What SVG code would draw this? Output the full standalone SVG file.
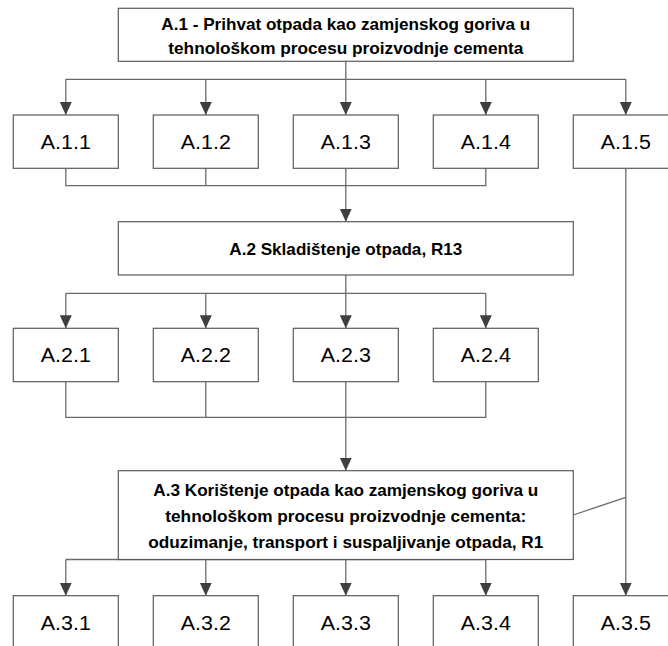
<svg xmlns="http://www.w3.org/2000/svg" width="668" height="646" viewBox="0 0 668 646">
<style>
.box{fill:#fff;stroke:#5a5a5a;stroke-width:1.2}
.ln{fill:none;stroke:#6a6a6a;stroke-width:1.3}
.lbl{font-family:"Liberation Sans",Arial,sans-serif;font-size:20.5px;fill:#000;text-anchor:middle}
.hd{font-family:"Liberation Sans",Arial,sans-serif;font-size:16.5px;font-weight:bold;fill:#000;text-anchor:middle}
</style>
<defs>
<marker id="ah" markerUnits="userSpaceOnUse" markerWidth="14" markerHeight="13" refX="13" refY="6" orient="auto" viewBox="0 0 14 12">
<path d="M0,0 L13,6 L0,12 Z" fill="#3f3f3f"/>
</marker>
</defs>
<g id="connectors">
<path class="ln" d="M345.8,61.3 V79.3 M65.8,79.3 H625.8"/>
<path class="ln" marker-end="url(#ah)" d="M65.8,79.3 V115"/>
<path class="ln" marker-end="url(#ah)" d="M205.8,79.3 V115"/>
<path class="ln" marker-end="url(#ah)" d="M345.8,79.3 V115"/>
<path class="ln" marker-end="url(#ah)" d="M485.8,79.3 V115"/>
<path class="ln" marker-end="url(#ah)" d="M625.8,79.3 V115"/>
<path class="ln" d="M65.8,168.3 V185.7 H485.8 V168.3 M205.8,168.3 V185.7 M345.8,168.3 V185.7"/>
<path class="ln" marker-end="url(#ah)" d="M345.8,185.7 V221.7"/>
<path class="ln" d="M345.8,275 V293.3 M65.8,293.3 H485.8"/>
<path class="ln" marker-end="url(#ah)" d="M65.8,293.3 V328.3"/>
<path class="ln" marker-end="url(#ah)" d="M205.8,293.3 V328.3"/>
<path class="ln" marker-end="url(#ah)" d="M345.8,293.3 V328.3"/>
<path class="ln" marker-end="url(#ah)" d="M485.8,293.3 V328.3"/>
<path class="ln" d="M65.8,381.7 V417.3 H485.8 V381.7 M205.8,381.7 V417.3 M345.8,381.7 V417.3"/>
<path class="ln" marker-end="url(#ah)" d="M345.8,417.3 V470.7"/>
<path class="ln" d="M65.8,559.5 H485.8"/>
<path class="ln" marker-end="url(#ah)" d="M65.8,559.5 V595.7"/>
<path class="ln" marker-end="url(#ah)" d="M205.8,559.5 V595.7"/>
<path class="ln" marker-end="url(#ah)" d="M345.8,559.5 V595.7"/>
<path class="ln" marker-end="url(#ah)" d="M485.8,559.5 V595.7"/>
<path class="ln" marker-end="url(#ah)" d="M625.8,168.3 V595.7"/>
<path class="ln" stroke-width="1" d="M573.3,515 L625.8,497.3"/>
</g>
<g id="A1">
<rect class="box" x="118.3" y="8.3" width="455" height="53"/>
<text class="hd" x="345.8" y="29.5" textLength="369" lengthAdjust="spacingAndGlyphs">A.1 - Prihvat otpada kao zamjenskog goriva u</text>
<text class="hd" x="345.8" y="53.5" textLength="355" lengthAdjust="spacingAndGlyphs">tehnološkom procesu proizvodnje cementa</text>
</g>
<g id="A11"><rect class="box" x="13.3" y="115" width="105" height="53.3"/><text class="lbl" x="65.8" y="149" textLength="50" lengthAdjust="spacingAndGlyphs">A.1.1</text></g>
<g id="A12"><rect class="box" x="153.3" y="115" width="105" height="53.3"/><text class="lbl" x="205.8" y="149" textLength="50" lengthAdjust="spacingAndGlyphs">A.1.2</text></g>
<g id="A13"><rect class="box" x="293.3" y="115" width="105" height="53.3"/><text class="lbl" x="345.8" y="149" textLength="50" lengthAdjust="spacingAndGlyphs">A.1.3</text></g>
<g id="A14"><rect class="box" x="433.3" y="115" width="105" height="53.3"/><text class="lbl" x="485.8" y="149" textLength="50" lengthAdjust="spacingAndGlyphs">A.1.4</text></g>
<g id="A15"><rect class="box" x="573.3" y="115" width="105" height="53.3"/><text class="lbl" x="625.8" y="149" textLength="50" lengthAdjust="spacingAndGlyphs">A.1.5</text></g>
<g id="A2">
<rect class="box" x="118.3" y="221.7" width="455" height="53.3"/>
<text class="hd" x="345.8" y="254.5" textLength="233" lengthAdjust="spacingAndGlyphs">A.2 Skladištenje otpada, R13</text>
</g>
<g id="A21"><rect class="box" x="13.3" y="328.3" width="105" height="53.4"/><text class="lbl" x="65.8" y="362.3" textLength="50" lengthAdjust="spacingAndGlyphs">A.2.1</text></g>
<g id="A22"><rect class="box" x="153.3" y="328.3" width="105" height="53.4"/><text class="lbl" x="205.8" y="362.3" textLength="50" lengthAdjust="spacingAndGlyphs">A.2.2</text></g>
<g id="A23"><rect class="box" x="293.3" y="328.3" width="105" height="53.4"/><text class="lbl" x="345.8" y="362.3" textLength="50" lengthAdjust="spacingAndGlyphs">A.2.3</text></g>
<g id="A24"><rect class="box" x="433.3" y="328.3" width="105" height="53.4"/><text class="lbl" x="485.8" y="362.3" textLength="50" lengthAdjust="spacingAndGlyphs">A.2.4</text></g>
<g id="A3">
<rect class="box" x="118.3" y="470.7" width="455" height="88.8"/>
<text class="hd" x="345.8" y="496" textLength="385" lengthAdjust="spacingAndGlyphs">A.3 Korištenje otpada kao zamjenskog goriva u</text>
<text class="hd" x="345.8" y="522" textLength="361" lengthAdjust="spacingAndGlyphs">tehnološkom procesu proizvodnje cementa:</text>
<text class="hd" x="345.8" y="548" textLength="395" lengthAdjust="spacingAndGlyphs">oduzimanje, transport i suspaljivanje otpada, R1</text>
</g>
<g id="A31"><rect class="box" x="13.3" y="595.7" width="105" height="53.3"/><text class="lbl" x="65.8" y="629.7" textLength="50" lengthAdjust="spacingAndGlyphs">A.3.1</text></g>
<g id="A32"><rect class="box" x="153.3" y="595.7" width="105" height="53.3"/><text class="lbl" x="205.8" y="629.7" textLength="50" lengthAdjust="spacingAndGlyphs">A.3.2</text></g>
<g id="A33"><rect class="box" x="293.3" y="595.7" width="105" height="53.3"/><text class="lbl" x="345.8" y="629.7" textLength="50" lengthAdjust="spacingAndGlyphs">A.3.3</text></g>
<g id="A34"><rect class="box" x="433.3" y="595.7" width="105" height="53.3"/><text class="lbl" x="485.8" y="629.7" textLength="50" lengthAdjust="spacingAndGlyphs">A.3.4</text></g>
<g id="A35"><rect class="box" x="573.3" y="595.7" width="105" height="53.3"/><text class="lbl" x="625.8" y="629.7" textLength="50" lengthAdjust="spacingAndGlyphs">A.3.5</text></g>
</svg>
